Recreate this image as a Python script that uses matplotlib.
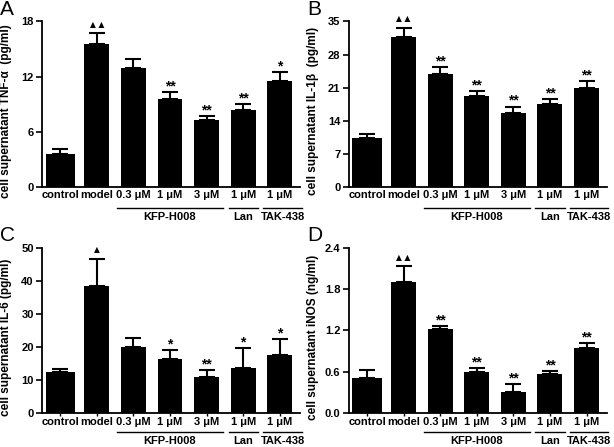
import matplotlib
matplotlib.use("Agg")
import matplotlib.pyplot as plt

plt.rcParams['font.family'] = ['Liberation Sans', 'DejaVu Sans']
plt.rcParams['font.weight'] = 'bold'

groups = ["control", "model", "0.3 μM", "1 μM", "3 μM", "1 μM", "1 μM"]

tnf = [3.58, 15.5, 12.95, 9.6, 7.3, 8.4, 11.5]
tnf_err = [0.5, 1.2, 0.95, 0.7, 0.45, 0.6, 0.97]
tnf_sig = ["", "▲ ▲", "", "**", "**", "**", "*"]

il1b = [10.4, 31.7, 23.9, 19.3, 15.7, 17.5, 20.85]
il1b_err = [0.7, 2.0, 1.5, 0.9, 1.3, 1.0, 1.6]
il1b_sig = ["", "▲ ▲", "**", "**", "**", "**", "**"]

il6 = [12.4, 38.5, 20.1, 16.2, 11.0, 13.6, 17.5]
il6_err = [1.0, 8.2, 2.7, 2.9, 2.1, 6.1, 4.8]
il6_sig = ["", "▲", "", "*", "**", "*", "*"]

inos = [0.515, 1.9, 1.215, 0.6, 0.31, 0.56, 0.95]
inos_err = [0.115, 0.23, 0.045, 0.05, 0.11, 0.047, 0.07]
inos_sig = ["", "▲ ▲", "**", "**", "**", "**", "**"]

panels = [
    ("A", tnf, tnf_err, tnf_sig, 18, [0, 6, 12, 18], "cell supernatant TNF-α  (pg/ml)", "%d"),
    ("B", il1b, il1b_err, il1b_sig, 35, [0, 7, 14, 21, 28, 35], "cell supernatant IL-1β  (pg/ml)", "%d"),
    ("C", il6, il6_err, il6_sig, 50, [0, 10, 20, 30, 40, 50], "cell supernatant IL-6 (pg/ml)", "%d"),
    ("D", inos, inos_err, inos_sig, 2.4, [0, 0.6, 1.2, 1.8, 2.4], "cell supernatant iNOS (ng/ml)", "%.1f"),
]

# axes rectangles (left, bottom, width, height) in figure fraction
rects = [
    (0.0684, 0.582, 0.420, 0.370),
    (0.568, 0.582, 0.420, 0.370),
    (0.0684, 0.076, 0.420, 0.370),
    (0.568, 0.076, 0.420, 0.370),
]

fig = plt.figure(figsize=(6.14, 4.47), dpi=100)
x = list(range(len(groups)))
widths = [0.8, 0.68, 0.68, 0.68, 0.68, 0.68, 0.68]

for i, ((letter, vals, errs, sigs, ymax, yt, ylab, fmt), rect) in enumerate(zip(panels, rects)):
    top_row = i < 2
    ax = fig.add_axes(rect)
    ax.bar(x, vals, width=widths, color="black", zorder=2)
    ax.errorbar(x, vals, yerr=[[0] * len(errs), errs], fmt="none", ecolor="black",
                elinewidth=1.5, capsize=6, capthick=1.5, zorder=1)
    ax.set_xlim(-0.5, 6.55)
    ax.set_ylim(0, ymax)
    ax.set_yticks(yt)
    ax.set_yticklabels([fmt % t for t in yt])
    ax.set_xticks(x)
    ax.set_xticklabels(groups)
    ax.tick_params(axis="x", length=0 if top_row else 2, width=1, pad=2 if top_row else 1,
                   labelsize=8)
    ax.tick_params(axis="y", length=4, width=1.2, direction="out", pad=2, labelsize=8)
    for side in ["top", "right"]:
        ax.spines[side].set_visible(False)
    for side in ["left", "bottom"]:
        ax.spines[side].set_linewidth(1.3)
    ax.set_ylabel(ylab, fontsize=8.5, fontweight="bold", labelpad=2)
    ax.yaxis.set_label_coords(-0.115, 0.46)

    for xi, v, e, s in zip(x, vals, errs, sigs):
        if not s:
            continue
        if "▲" in s:
            ax.annotate(s, (xi, v + e), xytext=(0, 3), textcoords="offset points",
                        ha="center", va="bottom", fontsize=5.5, family=['DejaVu Sans'])
        else:
            ax.annotate(s, (xi, v + e), xytext=(0, -1), textcoords="offset points",
                        ha="center", va="bottom", fontsize=10, fontweight="bold")

    tr = ax.get_xaxis_transform()
    line_y = -0.13 if top_row else -0.115
    text_y = -0.155 if top_row else -0.137
    for x0, x1, name in [(1.55, 4.45, "KFP-H008"), (4.6, 5.4, "Lan"), (5.55, 6.6, "TAK-438")]:
        ax.plot([x0, x1], [line_y, line_y], color="black", lw=1.0, transform=tr, clip_on=False)
        ax.text((x0 + x1) / 2, text_y, name, transform=tr, ha="center", va="top",
                fontsize=8, fontweight="bold")

    l, b, w, h = rect
    fig.text(l - 0.068, b + h + 0.048, letter, fontsize=15, fontweight="normal",
             ha="left", va="top")

fig.savefig("out.png", dpi=100)
